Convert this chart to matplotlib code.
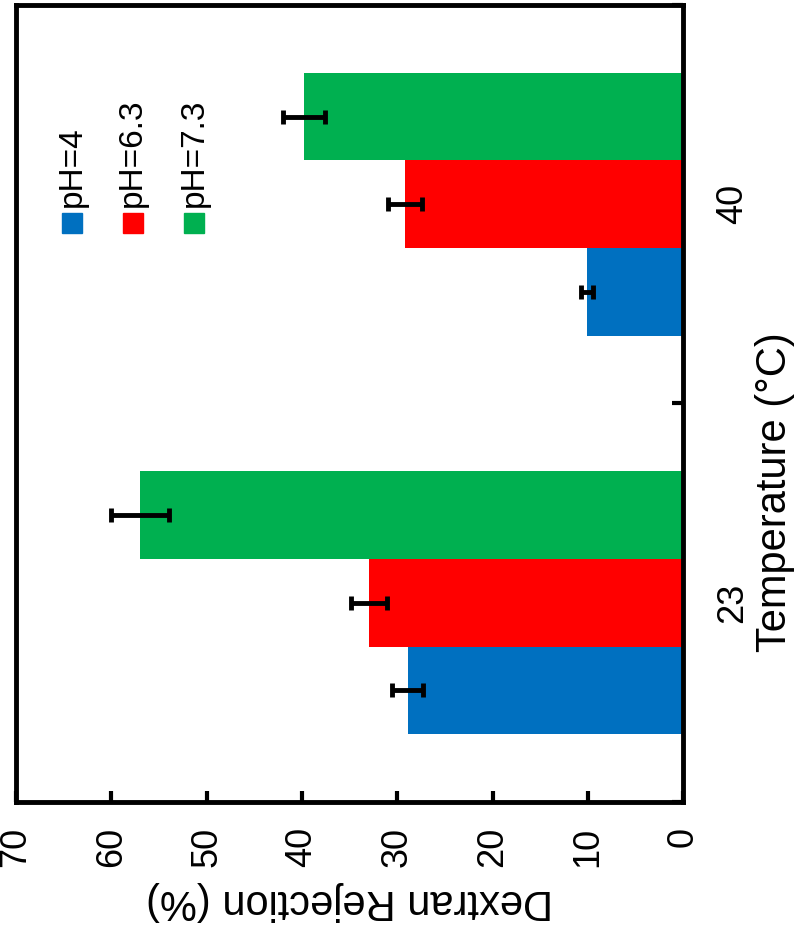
import matplotlib
matplotlib.use("Agg")
import matplotlib.pyplot as plt
import numpy as np

plt.rcParams["font.family"] = ["Liberation Sans", "DejaVu Sans"]

# ---- data ----
temperatures = ["23", "40"]
series_names = ["pH=4", "pH=6.3", "pH=7.3"]
rejection = {
    "pH=4": [28.9, 10.1],
    "pH=6.3": [33.0, 29.2],
    "pH=7.3": [57.0, 39.8],
}
rejection_err = {
    "pH=4": [1.6, 0.6],
    "pH=6.3": [1.9, 1.8],
    "pH=7.3": [3.0, 2.2],
}
value_ticks = [0, 10, 20, 30, 40, 50, 60, 70]

colors = ["#0070C0", "#FF0000", "#00B050"]

# ---- figure (the original is a vertical bar chart turned 90 degrees) ----
fig = plt.figure(figsize=(8, 9.26), dpi=100)
ax = fig.add_axes([0.02, 0.134, 0.834, 0.8606])

pos = np.arange(len(temperatures))
h = 0.22
for i, name in enumerate(series_names):
    ax.barh(pos + (i - 1) * h, rejection[name], height=h, color=colors[i],
            xerr=rejection_err[name], error_kw=dict(ecolor="black", elinewidth=3.5,
                                                    capsize=5, capthick=3.5))

ax.set_xlim(70, 0)
ax.set_ylim(-0.5, 1.5)

ax.set_xticks(value_ticks)
ax.set_xticklabels([str(v) for v in value_ticks], rotation=90, fontsize=26)
ax.tick_params(axis="x", direction="in", length=8, width=3, pad=18, bottom=True, top=False)

ax.yaxis.tick_right()
ax.set_yticks([-0.5, 0.5, 1.5])
ax.set_yticklabels([])
ax.set_yticks(pos, minor=True)
ax.set_yticklabels(temperatures, minor=True, rotation=90, va="center", fontsize=26)
ax.tick_params(axis="y", which="major", direction="in", length=8, width=3, left=False, right=True)
ax.tick_params(axis="y", which="minor", length=0, pad=23, left=False, right=True)

ax.set_xlabel("Dextran Rejection (%)", rotation=180, fontsize=30, labelpad=10)
ax.yaxis.set_label_position("right")
ax.set_ylabel("Temperature (\u00b0C)", rotation=90, fontsize=30)
ax.yaxis.set_label_coords(1.137, 0.389)
ax.yaxis.label.set_va("center")

for s in ax.spines.values():
    s.set_linewidth(3.5)

# legend drawn by hand, turned like the rest
leg_x = [0.084, 0.175, 0.267]
for i, name in enumerate(series_names):
    ax.plot([leg_x[i]], [0.726], marker="s", ms=14, color=colors[i],
            transform=ax.transAxes, clip_on=False, linestyle="none")
    ax.text(leg_x[i], 0.746, name, rotation=90, ha="center", va="bottom",
            fontsize=24, transform=ax.transAxes)

fig.savefig("out.png", dpi=100, facecolor="white")
